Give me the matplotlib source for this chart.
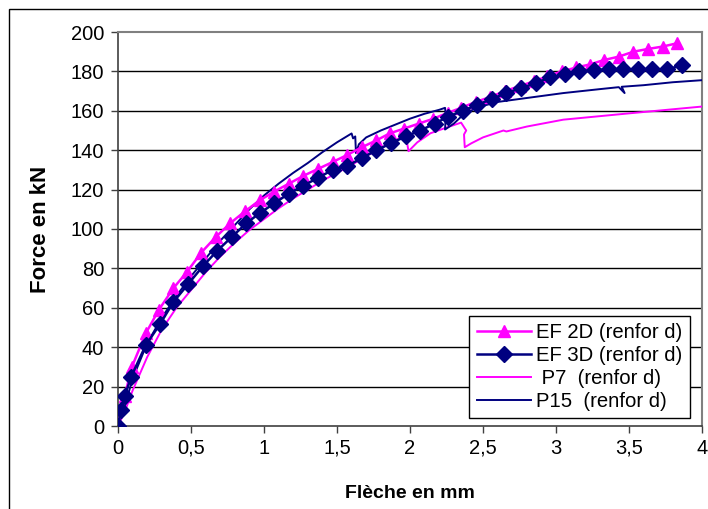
import matplotlib.pyplot as plt
from matplotlib.patches import Rectangle
from matplotlib.ticker import FuncFormatter

plt.rcParams['font.family'] = ['Liberation Sans', 'DejaVu Sans']

# EF 2D (renfor d) - magenta triangles
ef2d_x = [0, 0.045, 0.095, 0.19, 0.28, 0.38, 0.47, 0.57, 0.67, 0.77,
          0.87, 0.97, 1.07, 1.17, 1.27, 1.37, 1.47, 1.57, 1.67, 1.77,
          1.86, 1.96, 2.06, 2.16, 2.26, 2.35, 2.45, 2.55, 2.65, 2.75,
          2.85, 2.94, 3.04, 3.14, 3.23, 3.33, 3.43, 3.53, 3.63, 3.73, 3.83]
ef2d_y = [0, 15, 30, 47, 59, 70, 78, 88, 96, 103,
          109, 114.5, 119, 123, 127, 130.5, 134, 137.6, 141.5, 145,
          148.5, 151, 153.5, 156, 159, 161.5, 164.5, 167, 170, 172.5,
          175, 177.5, 180, 182, 183.5, 185.8, 187.5, 190, 191.4, 192.6, 194.3]

# EF 3D (renfor d) - navy diamonds
ef3d_x = [0, 0.02, 0.045, 0.09, 0.19, 0.29, 0.38, 0.48, 0.58, 0.68,
          0.78, 0.88, 0.97, 1.07, 1.17, 1.27, 1.37, 1.47, 1.57, 1.67,
          1.77, 1.87, 1.97, 2.07, 2.17, 2.26, 2.36, 2.46, 2.56, 2.66,
          2.76, 2.86, 2.96, 3.06, 3.16, 3.26, 3.36, 3.46, 3.56, 3.66, 3.76, 3.86]
ef3d_y = [0, 8, 15, 25, 41, 52, 63, 72, 81, 89,
          96, 103, 108, 113, 118, 122, 126, 130, 132, 136,
          140, 143.5, 147, 150, 153.5, 157, 160, 163, 166, 169,
          171.5, 174, 177, 178.5, 180, 180.5, 181, 181, 181, 181, 181, 183]

# P7 (renfor d) - essai, magenta
p7_x = [0, 0.05, 0.1, 0.2, 0.3, 0.4, 0.5, 0.6, 0.7, 0.8,
        0.9, 1.0, 1.1, 1.2, 1.3, 1.4, 1.5, 1.6, 1.7, 1.8,
        1.9, 1.97, 1.99, 2.05, 2.14, 2.25, 2.35, 2.385, 2.37, 2.375,
        2.42, 2.5, 2.64, 2.66, 2.8, 3.05, 3.5, 4.05]
p7_y = [0, 8, 18, 35, 49, 60, 69, 78, 86, 93,
        99.5, 105, 110.5, 115.5, 120, 124.5, 128.5, 132.5, 137, 141,
        145, 148, 139.5, 144, 148.6, 151.5, 154, 150, 148, 141.5,
        143.5, 146.5, 150, 149.5, 152, 155.5, 158.7, 162.5]

# P15 (renfor d) - essai, navy
p15_x = [0, 0.05, 0.1, 0.2, 0.3, 0.4, 0.5, 0.6, 0.7, 0.8,
         0.9, 1.0, 1.1, 1.2, 1.3, 1.4, 1.5, 1.6, 1.61, 1.625,
         1.63, 1.65, 1.7, 1.8, 1.9, 2.0, 2.1, 2.2, 2.24, 2.245,
         2.24, 2.3, 2.35, 2.45, 2.6, 2.8, 3.05, 3.3, 3.43, 3.47,
         3.45, 3.6, 3.8, 4.05]
p15_y = [0, 11, 24, 42, 55, 66, 76, 85, 94, 102,
         110, 117, 123, 128.5, 133.5, 139, 144, 148.5, 146, 147,
         138.5, 143, 146.5, 150, 153, 156, 158.5, 160.5, 161.5, 158,
         150.5, 153.5, 157, 161.5, 164.5, 166.5, 169, 171, 172, 169,
         172.2, 173, 174.5, 175.8]

x_ticks = [0, 0.5, 1, 1.5, 2, 2.5, 3, 3.5, 4]
y_ticks = list(range(0, 201, 20))

magenta = '#FF00FF'
navy = '#000080'

fig = plt.figure(figsize=(7.08, 5.09), dpi=100)
ax = fig.add_axes([118 / 708, 83 / 509, 584 / 708, 394 / 509])

# outer chart frame (only left/top visible in the crop)
fig.patches.append(Rectangle((9 / 708, -0.1), 1.2, 1 - 9 / 509 + 0.1,
                             transform=fig.transFigure, fill=False,
                             edgecolor='black', linewidth=1))

for y in y_ticks[1:-1]:
    ax.axhline(y, color='black', linewidth=1, zorder=1)

ax.plot(ef2d_x, ef2d_y, color=magenta, marker='^', markersize=8,
        linewidth=1.8, label='EF 2D (renfor d)', zorder=4)
ax.plot(ef3d_x, ef3d_y, color=navy, marker='D', markersize=8.5,
        linewidth=1.8, label='EF 3D (renfor d)', zorder=5)
ax.plot(p7_x, p7_y, color=magenta, linewidth=1.4,
        label=' P7  (renfor d)', zorder=3)
ax.plot(p15_x, p15_y, color=navy, linewidth=1.4,
        label='P15  (renfor d)', zorder=3)

ax.set_xlim(0, 4)
ax.set_ylim(0, 200)
ax.set_xticks(x_ticks)
ax.set_yticks(y_ticks)
ax.xaxis.set_major_formatter(FuncFormatter(lambda v, p: ('%g' % v).replace('.', ',')))
ax.tick_params(axis='both', labelsize=14.5, length=5, width=1, color='#404040')
ax.tick_params(axis='x', pad=4)
ax.tick_params(axis='y', pad=5)

for side in ['top', 'right']:
    ax.spines[side].set_color('#808080')
    ax.spines[side].set_linewidth(1.5)
for side in ['left', 'bottom']:
    ax.spines[side].set_color('#404040')
    ax.spines[side].set_linewidth(1.2)

ax.set_xlabel('Flèche en mm', fontsize=14, fontweight='bold', labelpad=20)
ax.set_ylabel('Force en kN', fontsize=16, fontweight='bold', labelpad=14)

leg = ax.legend(loc='lower right', bbox_to_anchor=(0.979, 0.02), fontsize=14.6,
                frameon=True, fancybox=False, framealpha=1, edgecolor='black',
                handlelength=2.7, handletextpad=0.25, borderpad=0.35,
                labelspacing=0.2, borderaxespad=0)
leg.get_frame().set_linewidth(1)
leg.set_zorder(10)

fig.savefig('out.png', dpi=100)
